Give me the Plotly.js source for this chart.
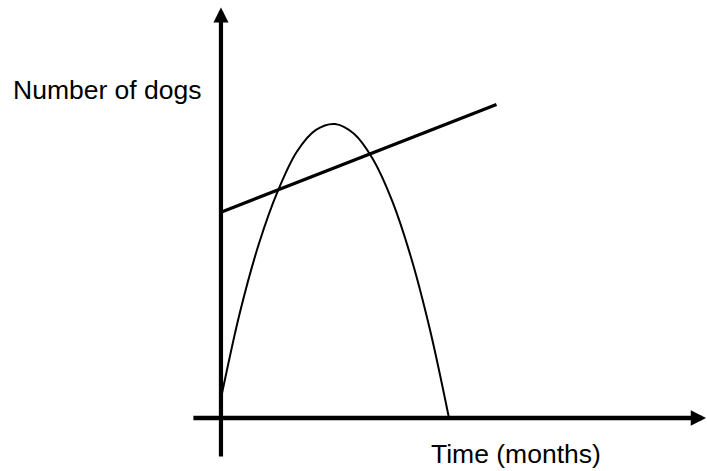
<!DOCTYPE html>
<html>
<head>
<meta charset="utf-8">
<script src="https://cdn.plot.ly/plotly-3.0.1.min.js"></script>
<style>html,body{margin:0;padding:0;background:#fff;}#chart{width:707px;height:471px;}</style>
</head>
<body>
<div id="chart"></div>
<script>
// Curve: number of dogs over time
const curveMonths = [0, 1, 2, 3, 4, 5, 6, 7, 8, 9, 10, 11, 12];
const curveDogs   = [10, 54, 89, 116, 136, 147, 150, 145, 132, 111, 82, 45, 0];
// Straight line
const lineMonths = [0, 14.5];
const lineDogs   = [105, 160];
// Axis extents (arrow tails and tips)
const xAxisFrom = -1.53, xAxisTo = 25.58;
const yAxisFrom = -20.4, yAxisTo = 209.5;
const yLabel = "Number of dogs";
const xLabel = "Time (months)";

const traces = [
  {x: curveMonths, y: curveDogs, mode: 'lines', line: {color: '#000', width: 2, shape: 'spline', smoothing: 1.0}, hoverinfo: 'skip'},
  {x: lineMonths, y: lineDogs, mode: 'lines', line: {color: '#000', width: 3.2}, hoverinfo: 'skip'}
];

const font = {family: 'Liberation Sans, Arial, sans-serif', size: 26.5, color: '#000'};

const layout = {
  width: 707, height: 471,
  margin: {l: 0, r: 0, t: 0, b: 0},
  paper_bgcolor: '#fff', plot_bgcolor: '#fff',
  showlegend: false,
  xaxis: {range: [-11.63, 25.58], visible: false, fixedrange: true},
  yaxis: {range: [-27.04, 213.27], visible: false, fixedrange: true},
  annotations: [
    {x: xAxisTo - 0.05, y: 0, ax: xAxisFrom, ay: 0, xref: 'x', yref: 'y', axref: 'x', ayref: 'y',
     showarrow: true, arrowhead: 2, arrowsize: 0.68, arrowwidth: 4.5, arrowcolor: '#000', text: '', standoff: 0},
    {x: 0, y: yAxisTo, ax: 0, ay: yAxisFrom, xref: 'x', yref: 'y', axref: 'x', ayref: 'y',
     showarrow: true, arrowhead: 2, arrowsize: 0.72, arrowwidth: 4.2, arrowcolor: '#000', text: '', standoff: 0},
    {x: 11/707, y: 1 - 90/471, xref: 'paper', yref: 'paper', xanchor: 'left', yanchor: 'middle',
     showarrow: false, text: yLabel, font: font},
    {x: 429/707, y: 1 - 454/471, xref: 'paper', yref: 'paper', xanchor: 'left', yanchor: 'middle',
     showarrow: false, text: xLabel, font: font}
  ]
};

Plotly.newPlot('chart', traces, layout, {displayModeBar: false, staticPlot: true});
</script>
</body>
</html>
